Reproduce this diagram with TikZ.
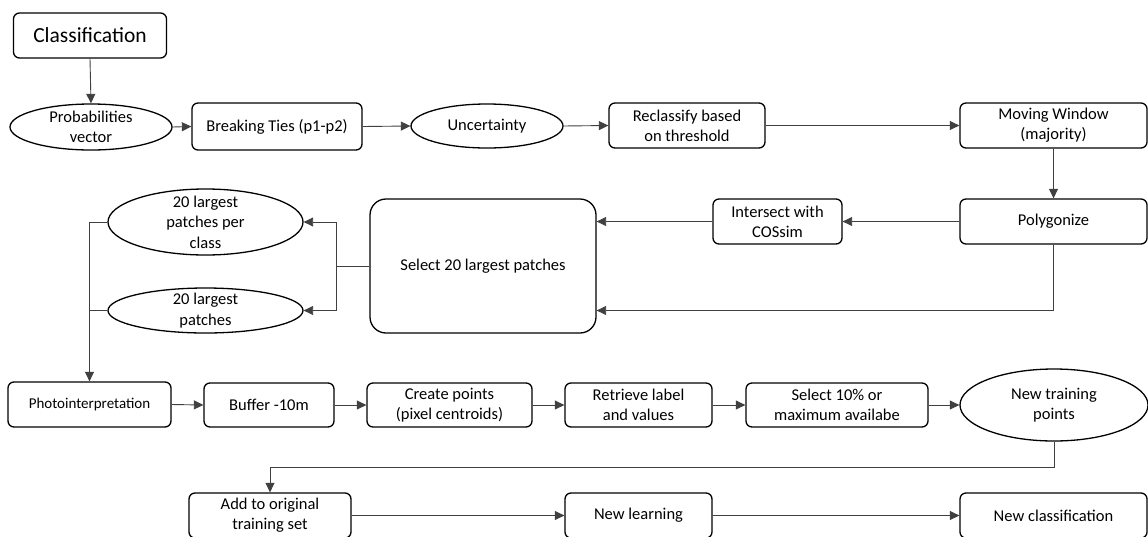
\documentclass[tikz,border=0pt]{standalone}
\usepackage{fontspec}
\setmainfont{Carlito}
\usetikzlibrary{shapes.geometric,arrows.meta}
\tikzset{
  boxnode/.style={draw=black, line width=1.3pt, rounded corners=6pt, inner sep=0pt, align=center, font=\fontsize{16.5}{20}\selectfont},
  ovalnode/.style={draw=black, line width=1.3pt, ellipse, inner sep=0pt},
  ovaltext/.style={align=center, font=\fontsize{16.5}{20.5}\selectfont},
  conn/.style={draw=black!75, line width=0.9pt},
  arr/.style={conn, -{Triangle[length=9.5pt,width=9pt]}},
}
\begin{document}
\begin{tikzpicture}[x=1pt,y=-1pt]
\useasboundingbox (0,0) rectangle (1148,536);
% top row
\node[boxnode, minimum width=153pt, minimum height=45pt, font=\fontsize{21.5}{25}\selectfont] (cls) at (90,35.5) {Classification};
\node[ovalnode, minimum width=162pt, minimum height=46pt, label={[ovaltext,name=probt]center:Probabilities\\vector}] (prob) at (91,127) {};
\node[boxnode, minimum width=170pt, minimum height=47pt] (bt) at (277,126.5) {Breaking Ties (p1-p2)};
\node[ovalnode, minimum width=152pt, minimum height=44pt, label={[ovaltext,name=unct]center:Uncertainty}] (unc) at (487,126) {};
\node[boxnode, minimum width=156pt, minimum height=45pt] (recl) at (687,125.5) {Reclassify based\\on threshold};
\node[boxnode, minimum width=187pt, minimum height=45pt] (mw) at (1053.5,125.5) {Moving Window\\(majority)};
% middle row
\node[boxnode, minimum width=187pt, minimum height=45pt] (poly) at (1053.5,221.5) {Polygonize};
\node[boxnode, minimum width=129pt, minimum height=45pt] (inter) at (777.5,221.5) {Intersect with\\COSsim};
\node[boxnode, rounded corners=16pt, minimum width=226pt, minimum height=134pt] (sel) at (483,266) {Select 20 largest patches};
\node[ovalnode, minimum width=195pt, minimum height=66pt, label={[ovaltext,name=e1t]center:20 largest\\patches per\\class}] (e1) at (205.5,222) {};
\node[ovalnode, minimum width=195pt, minimum height=45pt, label={[ovaltext,name=e2t]center:20 largest\\patches}] (e2) at (205.5,310.5) {};
% lower row
\node[boxnode, minimum width=163pt, minimum height=45pt, font=\fontsize{15}{18}\selectfont] (photo) at (89.5,404.5) {Photointerpretation};
\node[boxnode, minimum width=130pt, minimum height=44pt] (buf) at (269,405) {Buffer -10m};
\node[boxnode, minimum width=165pt, minimum height=44pt] (cp) at (449.5,405) {Create points\\(pixel centroids)};
\node[boxnode, minimum width=147pt, minimum height=44pt] (ret) at (638.5,405) {Retrieve label\\and values};
\node[boxnode, minimum width=182pt, minimum height=44pt] (s10) at (837,405) {Select 10\% or\\maximum availabe};
\node[ovalnode, minimum width=188pt, minimum height=72pt, label={[ovaltext,name=ntpt]center:New training\\points}] (ntp) at (1054,405) {};
% bottom row
\node[boxnode, minimum width=162pt, minimum height=45pt] (add) at (270,515.5) {Add to original\\training set};
\node[boxnode, minimum width=147pt, minimum height=45pt] (nl) at (638.5,515.5) {New learning};
\node[boxnode, minimum width=187pt, minimum height=45pt] (nc) at (1053.5,515.5) {New classification};
% helper coordinates
\coordinate (j) at (336,266);
\coordinate (turn) at (0,467);
% connectors
\draw[arr] (cls.south) -- (prob.north);
\draw[arr] (prob.east) -- (bt.west);
\draw[arr] (bt.east) -- (unc.west);
\draw[arr] (unc.east) -- (recl.west);
\draw[arr] (recl.east) -- (mw.west);
\draw[arr] (mw.south) -- (poly.north);
\draw[arr] (poly.west) -- (inter.east);
\draw[arr] (inter.west) -- (inter.west -| sel.east);
\draw[arr] (poly.south) |- (sel.east |- e2);
\draw[conn] (sel.west) -- (j);
\draw[arr] (j) |- (e1.east);
\draw[arr] (j) |- (e2.east);
\draw[arr] (e1.west) -| (photo.north);
\draw[conn] (e2.west) -- (e2.west -| photo.north);
\draw[arr] (photo.east) -- (buf.west);
\draw[arr] (buf.east) -- (cp.west);
\draw[arr] (cp.east) -- (ret.west);
\draw[arr] (ret.east) -- (s10.west);
\draw[arr] (s10.east) -- (ntp.west);
\draw[arr] (ntp.south) -- (ntp.south |- turn) -| (add.north);
\draw[arr] (add.east) -- (nl.west);
\draw[arr] (nl.east) -- (nc.west);
\end{tikzpicture}
\end{document}
